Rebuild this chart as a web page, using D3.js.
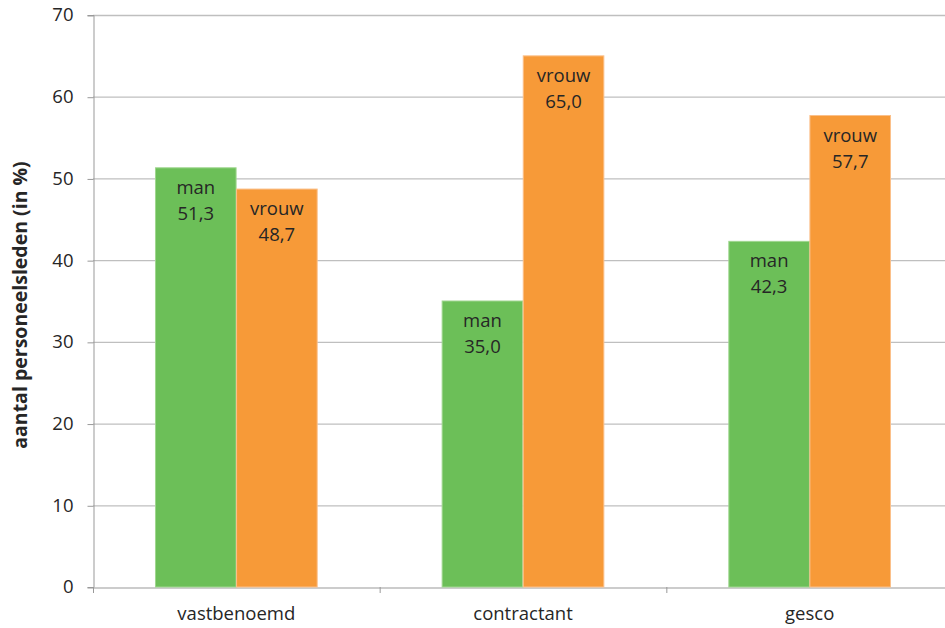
<!DOCTYPE html>
<html><head><meta charset="utf-8">
<script src="https://cdn.jsdelivr.net/npm/d3@7"></script>
<style>body{margin:0;background:#fff}svg text{font-family:"Open Sans",sans-serif;fill:#262626}</style>
</head><body><svg id="c" width="945" height="628"></svg>
<script>
const categories = ["vastbenoemd","contractant","gesco"];
const seriesNames = ["man","vrouw"];
const manValues = [51.3,35.0,42.3];
const vrouwValues = [48.7,65.0,57.7];
const yTicks = [0,10,20,30,40,50,60,70];
const colors = ["#6cbf58","#f79a38"];

const svg = d3.select("#c");
const pLeft = 93, pRight = 953, pTop = 15, pBottom = 587;
const x = d3.scaleBand().domain(categories).range([pLeft,pRight]).paddingInner(0).paddingOuter(0);
const y = d3.scaleLinear().domain([0,70]).range([pBottom,pTop]);
const x1 = d3.scaleBand().domain(seriesNames).range([62, x.bandwidth()-62]).padding(0.006);

// gridlines
svg.append("g").selectAll("line").data(yTicks.filter(d=>d>0)).join("line")
  .attr("x1",pLeft).attr("x2",pRight).attr("y1",d=>y(d)+0.5).attr("y2",d=>y(d)+0.5)
  .attr("stroke","#bfbfbf").attr("stroke-width",1.3);

// y axis
const ya = svg.append("g").attr("transform",`translate(${pLeft+0.5},0)`)
  .call(d3.axisLeft(y).tickValues(yTicks).tickSize(6).tickPadding(14).tickFormat(d3.format("d")));
ya.select(".domain").attr("stroke","#999");
ya.selectAll(".tick line").attr("stroke","#999").attr("transform","translate(0,0.5)");
ya.selectAll(".tick text").attr("font-size","18.5px").attr("fill","#262626");

// x axis
const xa = svg.append("g").attr("transform",`translate(0,${pBottom+0.5})`)
  .call(d3.axisBottom(x).tickSize(0).tickPadding(19));
xa.select(".domain").attr("stroke","#999");
xa.selectAll(".tick text").attr("font-size","18.5px").attr("fill","#262626");
// boundary ticks
const bounds = categories.map(c=>x(c)).concat([pRight]);
svg.append("g").selectAll("line").data(bounds).join("line")
  .attr("x1",d=>d+0.5).attr("x2",d=>d+0.5).attr("y1",pBottom).attr("y2",pBottom+6)
  .attr("stroke","#999");

// bars
const data = [];
categories.forEach((c,i)=>{
  data.push({cat:c, s:"man", v:manValues[i]});
  data.push({cat:c, s:"vrouw", v:vrouwValues[i]});
});
const g = svg.append("g");
g.selectAll("rect").data(data).join("rect")
  .attr("x",d=>x(d.cat)+x1(d.s))
  .attr("y",d=>y(d.v))
  .attr("width",x1.bandwidth())
  .attr("height",d=>pBottom-y(d.v))
  .attr("fill",(d)=>colors[seriesNames.indexOf(d.s)])
  .attr("stroke",(d)=>d.s==="man"?"#9fd68f":"#fbc08a").attr("stroke-width",1);

const fmt = v=>v.toFixed(1).replace(".",",");
const lab = g.selectAll("g.lab").data(data).join("g").attr("class","lab")
  .attr("transform",d=>`translate(${x(d.cat)+x1(d.s)+x1.bandwidth()/2},${y(d.v)})`);
lab.append("text").attr("text-anchor","middle").attr("y",26).attr("font-size","18.5px").text(d=>d.s);
lab.append("text").attr("text-anchor","middle").attr("y",52).attr("font-size","18.5px").text(d=>fmt(d.v));

// y title
svg.append("text").attr("transform",`translate(27,305) rotate(-90)`)
  .attr("text-anchor","middle").attr("font-size","19.5px").attr("font-weight","bold")
  .text("aantal personeelsleden (in %)");
</script></body></html>
